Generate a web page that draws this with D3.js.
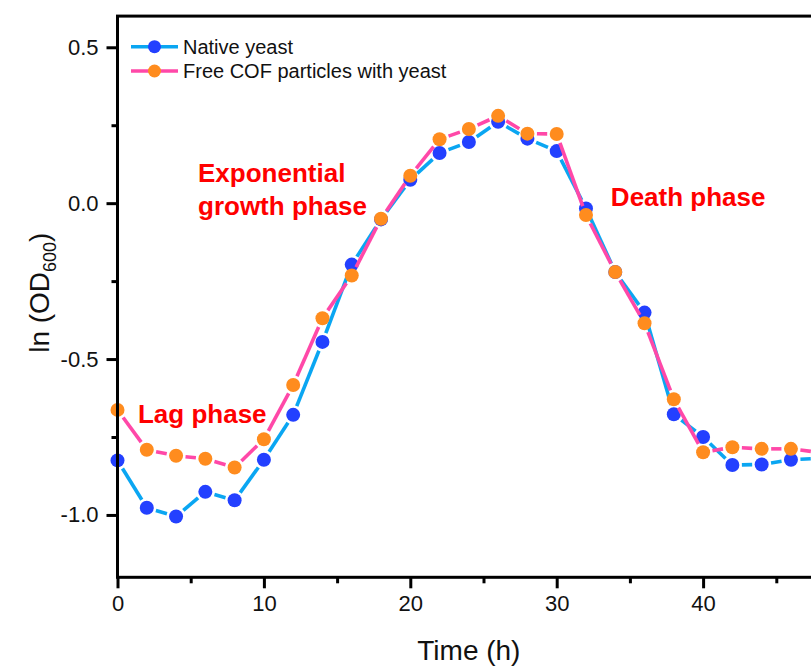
<!DOCTYPE html>
<html>
<head>
<meta charset="utf-8">
<script src="https://cdn.jsdelivr.net/npm/d3@7"></script>
<style>
  html, body { margin: 0; padding: 0; background: #fff; }
  svg { display: block; font-family: "Liberation Sans", Arial, Helvetica, sans-serif; }
</style>
</head>
<body>
<svg id="chart" width="811" height="668"></svg>
<script>
// ---- data ----
const timeHours = [0, 2, 4, 6, 8, 10, 12, 14, 16, 18, 20, 22, 24, 26, 28, 30, 32, 34, 36, 38, 40, 42, 44, 46, 48];
const nativeYeast = [-0.825, -0.977, -1.005, -0.926, -0.953, -0.823, -0.679, -0.445, -0.197, -0.052, 0.075, 0.161, 0.196, 0.261, 0.207, 0.167, -0.017, -0.221, -0.351, -0.677, -0.750, -0.840, -0.838, -0.823, -0.818];
const freeCOF = [-0.663, -0.791, -0.810, -0.820, -0.848, -0.757, -0.583, -0.369, -0.232, -0.050, 0.088, 0.205, 0.238, 0.280, 0.223, 0.222, -0.038, -0.221, -0.385, -0.629, -0.799, -0.783, -0.788, -0.788, -0.800];
const seriesNames = ["Native yeast", "Free COF particles with yeast"];
const xMajorTicks = [0, 10, 20, 30, 40];
const xMinorTicks = [5, 15, 25, 35, 45];
const yMajorTicks = [-1.0, -0.5, 0.0, 0.5];
const yMinorTicks = [-0.75, -0.25, 0.25];
const annotations = [
  { lines: ["Lag phase"], x: 1.4, y: -0.706 },
  { lines: ["Exponential", "growth phase"], x: 5.5, y: 0.069 },
  { lines: ["Death phase"], x: 33.7, y: -0.008 }
];

// ---- layout ----
const svg = d3.select("#chart");
const x = d3.scaleLinear().domain([0, 48]).range([117.5, 117.5 + 48 * 14.64]);
const y = d3.scaleLinear().domain([-1.2, 0.6]).range([577.3, 16.1]);
const font = '"Liberation Sans", Arial, sans-serif';

const series = [
  { name: seriesNames[0], values: nativeYeast, line: "#0AA6F2", marker: "#2340FF" },
  { name: seriesNames[1], values: freeCOF, line: "#FF48A8", marker: "#FF8C1E" }
];

const R = 7;
const GAP = R + 2.5;

// clip for plot contents
svg.append("defs").append("clipPath").attr("id", "plotclip")
  .append("rect").attr("x", x(0) - 10).attr("y", y(0.6)).attr("width", 900).attr("height", y(-1.2) - y(0.6));

const plot = svg.append("g").attr("clip-path", "url(#plotclip)");

series.forEach(s => {
  const pts = timeHours.map((t, i) => [x(t), y(s.values[i])]);
  const g = plot.append("g");
  const segs = d3.pairs(pts).map(([a, b]) => {
    const dx = b[0] - a[0], dy = b[1] - a[1];
    const len = Math.hypot(dx, dy);
    const ux = dx / len, uy = dy / len;
    return [a[0] + ux * GAP, a[1] + uy * GAP, b[0] - ux * GAP, b[1] - uy * GAP, len];
  }).filter(d => d[4] > 2 * GAP);
  g.selectAll("line").data(segs).join("line")
    .attr("x1", d => d[0]).attr("y1", d => d[1])
    .attr("x2", d => d[2]).attr("y2", d => d[3])
    .attr("stroke", s.line).attr("stroke-width", 3.6).attr("stroke-linecap", "butt");
  g.selectAll("circle").data(pts).join("circle")
    .attr("cx", d => d[0]).attr("cy", d => d[1]).attr("r", R)
    .attr("fill", s.marker);
});

// ---- axes ----
const axisColor = "#000";
const xAxis = svg.append("g").attr("transform", `translate(0,${y(-1.2)})`)
  .call(d3.axisBottom(x).tickValues(xMajorTicks).tickSize(11).tickSizeOuter(0).tickPadding(7).tickFormat(d => d));
const xMinor = svg.append("g").attr("transform", `translate(0,${y(-1.2)})`)
  .call(d3.axisBottom(x).tickValues(xMinorTicks).tickSize(6).tickSizeOuter(0).tickFormat(""));
const yAxis = svg.append("g").attr("transform", `translate(${x(0)},0)`)
  .call(d3.axisLeft(y).tickValues(yMajorTicks).tickSize(11).tickSizeOuter(0).tickPadding(8).tickFormat(d => d.toFixed(1)));
const yMinor = svg.append("g").attr("transform", `translate(${x(0)},0)`)
  .call(d3.axisLeft(y).tickValues(yMinorTicks).tickSize(6).tickSizeOuter(0).tickFormat(""));

[xAxis, xMinor, yAxis, yMinor].forEach(a => {
  a.select(".domain").remove();
  a.selectAll(".tick line").attr("stroke", axisColor).attr("stroke-width", 3);
  a.selectAll(".tick text").attr("fill", "#111").style("font-family", font).style("font-size", "22px");
});

// frame (top + left + bottom; right edge lies beyond the visible area)
svg.append("rect")
  .attr("x", x(0)).attr("y", y(0.6))
  .attr("width", x(48) - x(0) + 20).attr("height", y(-1.2) - y(0.6))
  .attr("fill", "none").attr("stroke", axisColor).attr("stroke-width", 3);

// ---- titles ----
svg.append("text")
  .attr("x", (x(0) + x(48)) / 2 - 0).attr("y", 660)
  .attr("text-anchor", "middle")
  .style("font-family", font).style("font-size", "28px").attr("fill", "#111")
  .text("Time (h)");

const yt = svg.append("text")
  .attr("transform", `translate(49,${(y(0.6) + y(-1.2)) / 2 - 4}) rotate(-90)`)
  .attr("text-anchor", "middle")
  .style("font-family", font).style("font-size", "28px").attr("fill", "#111");
yt.append("tspan").text("ln (OD");
yt.append("tspan").attr("dy", 7).style("font-size", "18px").text("600");
yt.append("tspan").attr("dy", -7).text(")");

// ---- annotations ----
annotations.forEach(a => {
  const t = svg.append("text")
    .attr("x", x(a.x)).attr("y", y(a.y))
    .style("font-family", font).style("font-size", "26px").style("font-weight", "bold")
    .attr("fill", "#FF0000");
  a.lines.forEach((ln, i) => {
    t.append("tspan").attr("x", x(a.x)).attr("dy", i === 0 ? 0 : 33).text(ln);
  });
});

// ---- legend ----
const legend = svg.append("g");
series.forEach((s, i) => {
  const ly = 46.7 + i * 24.3;
  legend.append("line").attr("x1", 131).attr("x2", 178).attr("y1", ly).attr("y2", ly)
    .attr("stroke", s.line).attr("stroke-width", 3.6);
  legend.append("circle").attr("cx", 154.5).attr("cy", ly).attr("r", 6.5).attr("fill", s.marker);
  legend.append("text").attr("x", 183).attr("y", ly + 7)
    .style("font-family", font).style("font-size", "20px").attr("fill", "#111")
    .text(s.name);
});
</script>
</body>
</html>
